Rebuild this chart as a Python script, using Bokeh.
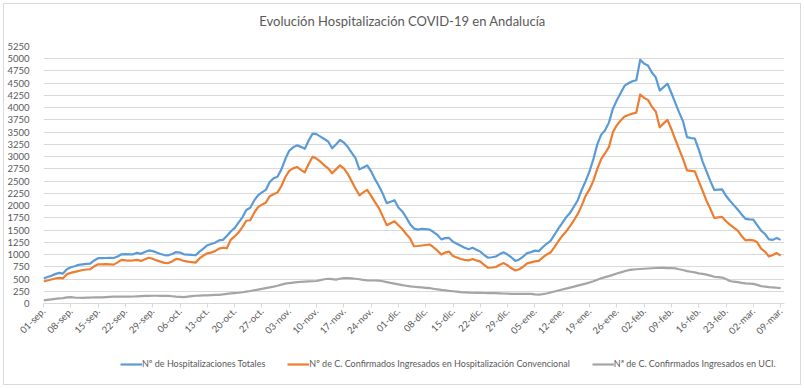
import numpy as np
from bokeh.plotting import figure
from bokeh.layouts import column
from bokeh.models import FixedTicker, Legend, LegendItem, Range1d, Label
from bokeh.embed import file_html
from bokeh.resources import INLINE

title_text = "Evolución Hospitalización COVID-19 en Andalucía"

tick_labels = ["01-sep.", "08-sep.", "15-sep.", "22-sep.", "29-sep.", "06-oct.", "13-oct.",
               "20-oct.", "27-oct.", "03-nov.", "10-nov.", "17-nov.", "24-nov.", "01-dic.",
               "08-dic.", "15-dic.", "22-dic.", "29-dic.", "05-ene.", "12-ene.", "19-ene.",
               "26-ene.", "02-feb.", "09-feb.", "16-feb.", "23-feb.", "02-mar.", "09-mar."]

series_names = ["Nº de Hospitalizaciones Totales",
                "Nº de C. Confirmados Ingresados en Hospitalización Convencional",
                "Nª de C. Confirmados Ingresados en UCI."]

# daily values, 01-sep-2020 .. 09-mar-2021
totales = [
    510, 540, 565, 600, 625, 612, 700, 740, 760, 790,
    800, 810, 815, 880, 925, 925, 930, 935, 930, 960,
    1005, 1010, 1005, 1005, 1035, 1015, 1050, 1085, 1070, 1040,
    1010, 990, 985, 1010, 1050, 1040, 1005, 1000, 995, 985,
    1060, 1120, 1190, 1215, 1240, 1290, 1300, 1380, 1470, 1540,
    1650, 1760, 1910, 1955, 2100, 2210, 2270, 2320, 2480, 2560,
    2590, 2740, 2950, 3120, 3190, 3230, 3200, 3160, 3330, 3470,
    3460, 3410, 3360, 3310, 3170, 3250, 3340, 3290, 3200, 3080,
    2970, 2740, 2780, 2820, 2700, 2540, 2400, 2240, 2050, 2080,
    2110, 1960, 1880, 1760, 1620, 1530, 1510, 1525, 1520, 1510,
    1460, 1400, 1310, 1335, 1340, 1260, 1220, 1180, 1140, 1110,
    1140, 1100, 1060, 990, 935, 945, 960, 1010, 1045, 1000,
    940, 870, 900, 960, 1030, 1050, 1080, 1070, 1150, 1220,
    1280, 1400, 1530, 1640, 1760, 1850, 1980, 2110, 2320, 2500,
    2700, 2950, 3250, 3450, 3540, 3700, 3980, 4150, 4300, 4450,
    4500, 4540, 4560, 4980, 4900, 4860, 4720, 4620, 4350, 4420,
    4490, 4300, 4100, 3900, 3720, 3400, 3380, 3370, 3150, 2900,
    2700, 2500, 2320, 2325, 2330, 2200, 2100, 2010, 1920, 1820,
    1730, 1720, 1715, 1600, 1490, 1420, 1310, 1300, 1340, 1300,
]

convencional = [
    450, 470, 490, 510, 525, 515, 600, 625, 645, 665,
    685, 695, 700, 760, 800, 800, 805, 800, 795, 840,
    890, 880, 875, 880, 890, 870, 905, 935, 915, 880,
    855, 830, 825, 860, 910, 900, 870, 855, 845, 835,
    920, 980, 1025, 1040, 1070, 1120, 1140, 1130, 1300, 1370,
    1450, 1560, 1690, 1700, 1850, 1970, 2020, 2060, 2190, 2230,
    2270, 2400, 2580, 2710, 2760, 2790, 2730, 2680, 2850, 3000,
    2960, 2900, 2820, 2760, 2660, 2740, 2820, 2760, 2650, 2500,
    2350, 2210, 2270, 2320, 2200, 2070, 1950, 1780, 1600, 1640,
    1680, 1600, 1520, 1420, 1330, 1170, 1175, 1185, 1195, 1205,
    1150, 1080, 1000, 1040, 1060, 970, 940, 910, 890, 880,
    910, 880, 855, 790, 730, 735, 745, 790, 825, 780,
    720, 675, 700, 750, 820, 840, 860, 870, 940, 1000,
    1040, 1150, 1270, 1380, 1470, 1580, 1700, 1830, 2000, 2200,
    2330, 2510, 2750, 2950, 3070, 3200, 3500, 3640, 3740, 3820,
    3850, 3880, 3900, 4270, 4200, 4160, 4020, 3920, 3600, 3680,
    3750, 3560, 3350, 3150, 2950, 2720, 2710, 2700, 2500, 2300,
    2100, 1930, 1750, 1760, 1770, 1680, 1610, 1550, 1490, 1380,
    1290, 1300, 1290, 1250, 1120, 1060, 960, 990, 1030, 980,
]

uci = [
    65, 75, 85, 95, 105, 110, 125, 130, 122, 118,
    115, 118, 122, 128, 126, 124, 130, 135, 140, 142,
    140, 140, 142, 143, 146, 150, 155, 157, 158, 158,
    157, 157, 155, 148, 140, 135, 130, 140, 150, 158,
    162, 165, 168, 172, 175, 178, 185, 195, 205, 212,
    220, 230, 242, 255, 270, 285, 300, 315, 330, 345,
    362, 385, 405, 418, 428, 436, 440, 445, 450, 455,
    460, 478, 495, 505, 498, 488, 505, 518, 520, 515,
    505, 495, 482, 474, 470, 470, 468, 455, 438, 420,
    405, 390, 375, 362, 350, 342, 335, 328, 320, 313,
    302, 290, 278, 268, 258, 250, 242, 233, 228, 224,
    220, 218, 216, 214, 212, 211, 210, 207, 204, 201,
    198, 198, 197, 196, 198, 195, 185, 180, 190, 205,
    225, 245, 265, 285, 305, 325, 345, 365, 385, 405,
    430, 455, 485, 515, 538, 560, 585, 612, 635, 660,
    680, 692, 700, 705, 710, 715, 720, 725, 730, 728,
    722, 725, 718, 700, 685, 662, 648, 635, 615, 605,
    590, 570, 545, 540, 530, 500, 460, 445, 435, 420,
    410, 405, 400, 380, 355, 345, 335, 328, 322, 315,
]

colors = ["#5B9BD5", "#ED7D31", "#A5A5A5"]
FONT = "Lato"
TXT = "#595959"
W = 796

days = list(range(len(totales)))
tick_pos = list(range(0, 7 * len(tick_labels), 7))

# ---- title strip
p0 = figure(width=W, height=34, output_backend="svg", toolbar_location=None,
            x_axis_type=None, y_axis_type=None, min_border=0,
            x_range=Range1d(0, 1), y_range=Range1d(0, 1))
p0.grid.visible = False
p0.outline_line_color = None
p0.add_layout(Label(x=359, y=18, x_units="screen", y_units="screen", text=title_text,
                    text_align="center", text_baseline="middle", text_font=FONT,
                    text_font_size="13px", text_color=TXT))

# ---- main chart
p = figure(width=W, height=306, output_backend="svg", toolbar_location=None,
           x_range=Range1d(0, 190), y_range=Range1d(0, 5250),
           min_border_left=34, min_border_right=16, min_border_top=8, min_border_bottom=41)
p.outline_line_color = None

for vals, c in zip([totales, convencional, uci], colors):
    p.line(days, vals, line_color=c, line_width=2.2, line_join="round")

p.yaxis.ticker = FixedTicker(ticks=list(range(0, 5251, 250)))
p.yaxis.axis_line_color = None
p.yaxis.major_tick_line_color = None
p.yaxis.minor_tick_line_color = None
p.yaxis.major_label_text_font = FONT
p.yaxis.major_label_text_font_size = "9.5px"
p.yaxis.major_label_text_color = TXT
p.yaxis.major_label_standoff = 8

p.xaxis.ticker = FixedTicker(ticks=tick_pos)
p.xaxis.major_label_overrides = {t: l for t, l in zip(tick_pos, tick_labels)}
p.xaxis.major_label_orientation = np.pi / 4
p.xaxis.axis_line_color = "#D9D9D9"
p.xaxis.major_tick_line_color = "#D9D9D9"
p.xaxis.major_tick_out = 4
p.xaxis.major_tick_in = 0
p.xaxis.minor_tick_line_color = None
p.xaxis.major_label_text_font = FONT
p.xaxis.major_label_text_font_size = "9.5px"
p.xaxis.major_label_text_color = TXT
p.xaxis.major_label_standoff = 2

p.xgrid.grid_line_color = None
p.ygrid.grid_line_color = "#D9D9D9"
p.ygrid.grid_line_width = 1

# ---- legend strip
p2 = figure(width=W, height=40, output_backend="svg", toolbar_location=None,
            x_axis_type=None, y_axis_type=None, min_border=0,
            x_range=Range1d(0, 1), y_range=Range1d(0, 1))
p2.grid.visible = False
p2.outline_line_color = None
leg_renderers = [p2.line([5, 6], [5, 6], line_color=c, line_width=2.2) for c in colors]

legend = Legend(items=[LegendItem(label=n, renderers=[r]) for n, r in zip(series_names, leg_renderers)],
                orientation="horizontal", location=(77, 15))
legend.label_text_font = FONT
legend.label_text_font_size = "9px"
legend.label_text_color = TXT
legend.glyph_width = 22
legend.glyph_height = 10
legend.label_standoff = 0
legend.spacing = 22
legend.padding = 4
legend.margin = 0
legend.border_line_color = None
legend.background_fill_alpha = 0
p2.add_layout(legend)

layout = column(p0, p, p2, spacing=0,
                styles={"border": "1px solid #D9D9D9", "margin-left": "3px", "margin-top": "3px"})

open("out.html", "w").write(file_html(layout, INLINE))
